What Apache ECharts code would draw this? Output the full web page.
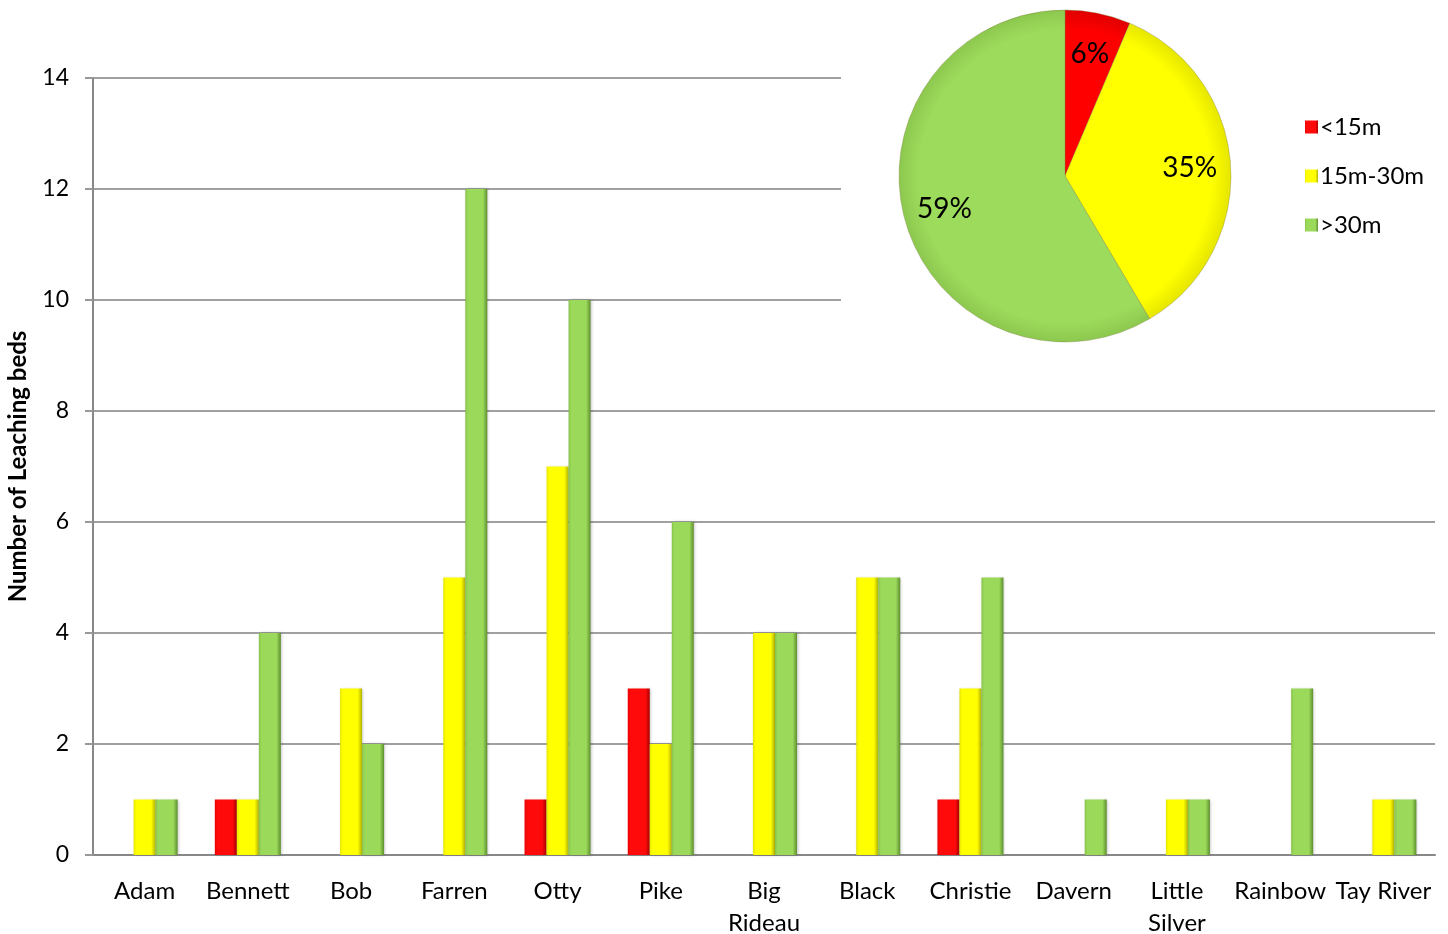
<!DOCTYPE html>
<html><head><meta charset="utf-8">
<script src="https://cdn.jsdelivr.net/npm/echarts@6/dist/echarts.min.js"></script>
<style>html,body{margin:0;padding:0;background:#fff}#c{width:1448px;height:934px}</style>
</head><body><div id="c"></div>
<script>
const categories = ['Adam','Bennett','Bob','Farren','Otty','Pike','Big\nRideau','Black','Christie','Davern','Little\nSilver','Rainbow','Tay River'];
const seriesNames = ['<15m','15m-30m','>30m'];
const under15 = [0,1,0,0,1,3,0,0,1,0,0,0,0];
const from15to30 = [1,1,3,5,7,2,4,5,3,0,1,0,1];
const over30 = [1,4,2,12,10,6,4,5,5,1,1,3,1];
const yTicks = {min:0, max:14, interval:2};

const FONT = 'Lato, "Open Sans", sans-serif';
function barGrad(edgeL, main, edgeR){
  return {type:'linear',x:0,y:0,x2:1,y2:0,colorStops:[
    {offset:0,color:edgeL},{offset:0.12,color:main},{offset:0.8,color:main},{offset:1,color:edgeR}]};
}
const PC = {x:1065, y:176, r:166};
function pieGrad(inner, outer){
  return {type:'radial',x:PC.x,y:PC.y,r:PC.r,global:true,colorStops:[{offset:0,color:inner},{offset:0.88,color:inner},{offset:1,color:outer}]};
}
const barColors = [
  barGrad('#e80000','#ff0a0a','#a80000'),
  barGrad('#e6e600','#ffff00','#b3b300'),
  barGrad('#86c24a','#9bd95a','#5e8f2e')
];
const pieColors = [pieGrad('#ff0000','#e00000'), pieGrad('#ffff00','#e6e600'), pieGrad('#9ddb5c','#8cc84e')];
const sum = a => a.reduce((s,v)=>s+v,0);
const pieData = [sum(under15), sum(from15to30), sum(over30)];
const seriesData = [under15, from15to30, over30];

const chart = echarts.init(document.getElementById('c'));
chart.setOption({
  animation:false,
  backgroundColor:'#fff',
  grid:{left:93,right:13,top:78,bottom:79,outerBoundsMode:'none',containLabel:false},
  legend:{
    orient:'vertical', left:1300, top:110, itemGap:25,
    itemWidth:13, itemHeight:13, icon:'rect',
    data:seriesNames,
    textStyle:{fontFamily:FONT,fontSize:24,color:'#000',padding:[0,0,0,-3]}
  },
  xAxis:{
    type:'category', data:categories,
    axisLine:{lineStyle:{color:'#888',width:2}},
    axisTick:{show:false},
    axisLabel:{fontFamily:FONT,fontSize:24,color:'#000',margin:20,lineHeight:32,interval:0}
  },
  yAxis:{
    type:'value', min:yTicks.min, max:yTicks.max, interval:yTicks.interval,
    name:'Number of Leaching beds', nameLocation:'middle', nameGap:63,
    nameTextStyle:{fontFamily:FONT,fontSize:24,fontWeight:'bold',color:'#000'},
    axisLine:{show:true,lineStyle:{color:'#888',width:2}},
    axisTick:{show:true,length:8,lineStyle:{color:'#999',width:2}},
    axisLabel:{fontFamily:FONT,fontSize:23,color:'#000',margin:24},
    splitLine:{lineStyle:{color:'#a0a0a0',width:2}}
  },
  graphic:[{type:'rect',z:1,silent:true,shape:{x:841,y:0,width:607,height:409},style:{fill:'#fff'}}],
  series:[
    ...seriesNames.map((n,i)=>({
      name:n, type:'bar', data:seriesData[i], barWidth:22, barGap:'0%', z:3,
      itemStyle:{color:barColors[i], shadowColor:'rgba(0,0,0,0.25)', shadowBlur:3, shadowOffsetX:1}
    })),
    {
      type:'pie', z:5, center:[PC.x,PC.y], radius:[0,PC.r], startAngle:90, clockwise:true,
      percentPrecision:0, silent:true,
      label:{show:false}, labelLine:{show:false},
      itemStyle:{borderColor:'rgba(120,120,60,0.35)',borderWidth:1},
      data:seriesNames.map((n,i)=>({name:n,value:pieData[i],itemStyle:{color:pieColors[i]}}))
    },
    {
      type:'pie', z:6, center:[PC.x,PC.y], radius:[78,PC.r], startAngle:90, clockwise:true,
      percentPrecision:0, silent:true, legendHoverLink:false,
      itemStyle:{color:'rgba(0,0,0,0)'}, labelLine:{show:false},
      label:{show:true,position:'inside',formatter:'{d}%',fontFamily:FONT,fontSize:28,color:'#000'},
      data:seriesNames.map((n,i)=>({name:n+' ',value:pieData[i]}))
    }
  ]
});
</script></body></html>
